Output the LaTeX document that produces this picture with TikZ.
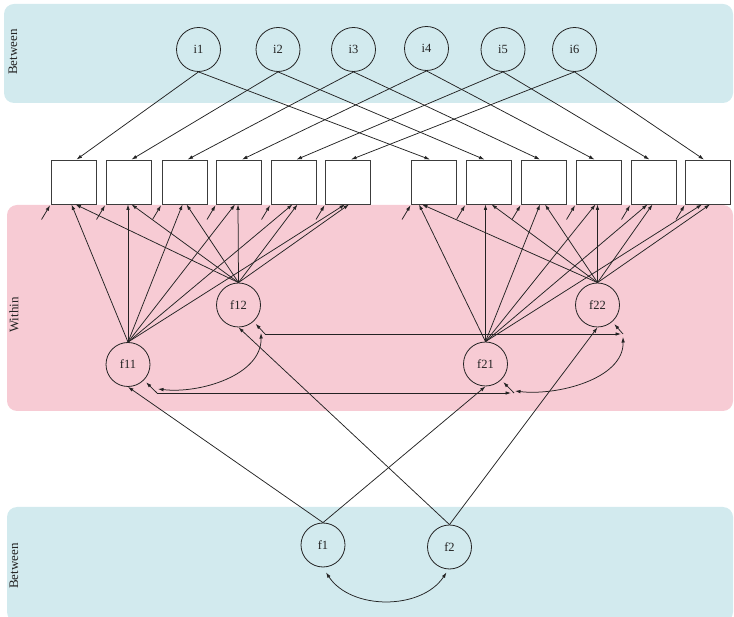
\documentclass[tikz,border=0pt]{standalone}
\usepackage{fontspec}
\setmainfont{Liberation Serif}
\usetikzlibrary{arrows.meta}

\begin{document}
\begin{tikzpicture}[x=1pt,y=-1pt,>={Latex[length=5.5pt,width=3.6pt]},
	latent/.style={circle,draw=darkline,line width=0.8pt,minimum size=44pt,inner sep=0pt,text=darkline,font=\fontsize{12.5}{14}\selectfont},
	observed/.style={rectangle,draw=boxline,line width=0.9pt,minimum width=45pt,minimum height=44pt},
	band/.style={rotate=90,text=darkline,font=\fontsize{13}{15}\selectfont},
	loading/.style={->,draw=darkline,line width=0.75pt}]
	\definecolor{betweenblue}{RGB}{210,234,238}
	\definecolor{withinpink}{RGB}{247,203,212}
	\definecolor{darkline}{RGB}{35,35,35}
	\definecolor{boxline}{RGB}{60,60,60}
	
	\useasboundingbox (0,0) rectangle (734,617);
	\fill[betweenblue,rounded corners=10pt] (4,4) rectangle (733,103);
	\fill[withinpink,rounded corners=10pt] (7,205) rectangle (733,411);
	\fill[betweenblue,rounded corners=10pt] (7,507) rectangle (733,622);
	
	\node[band] (topband) at (13,52) {Between};
	\node[band] (midband) at (14,315) {Within};
	\node[band] (botband) at (14,566) {Between};
	
	\node[latent] (i1) at (198.5,49.5) {i1};
	\node[latent] (i2) at (278,49.5) {i2};
	\node[latent] (i3) at (353.5,49.5) {i3};
	\node[latent] (i4) at (426.5,48.5) {i4};
	\node[latent] (i5) at (503,49.5) {i5};
	\node[latent] (i6) at (574.5,49.5) {i6};
	
	\foreach \x [count=\n] in {73.5,128.5,184.5,239,293.5,348,434,488.5,544,598.5,653.5,708}
		\node[observed] (b\n) at (\x,182) {};
	
	\foreach \n in {1,...,12} {
		\coordinate (e\n) at ([shift={(-9,15)}]b\n.south west);
		\draw[loading,shorten >=1pt] (e\n) -- (b\n.south west);
	}
	
	\foreach \n [evaluate=\n as \m using int(\n+6)] in {1,...,6} {
		\draw[loading] (i\n.south) -- ([xshift=3pt]b\n.north);
		\draw[loading] (i\n.south) -- ([xshift=-4pt]b\m.north);
	}
	
	\node[latent] (f11) at (128,364.5) {f11};
	\node[latent] (f12) at (238.5,305) {f12};
	\node[latent] (f21) at (485.5,364) {f21};
	\node[latent] (f22) at (597.5,305) {f22};
	
	\foreach \n/\s in {1/-2,2/-0.5,3/-2,4/-4,5/-1,6/-3}
		\draw[loading] (f11.north) -- ([xshift=\s pt]b\n.south);
	\foreach \n/\s in {1/2,2/3,3/2,4/-1,5/4,6/1}
		\draw[loading] (f12.north) -- ([xshift=\s pt]b\n.south);
	\foreach \n/\s in {7/-15,8/-3,9/-4,10/-3,11/-6,12/-6}
		\draw[loading] (f21.north) -- ([xshift=\s pt]b\n.south);
	\foreach \n/\s in {7/-12,8/3,9/1,10/-1,11/-1,12/2}
		\draw[loading] (f22.north) -- ([xshift=\s pt]b\n.south);
	
	\coordinate (c11) at (157,393);
	\coordinate (c12) at (265,334);
	\coordinate (c21) at (514,393);
	\coordinate (c22) at (623,334);
	
	\draw[loading,shorten >=3pt] (c11) -- (f11);
	\draw[loading,shorten >=3pt] (c12) -- (f12);
	\draw[loading,shorten >=3pt] (c21) -- (f21);
	\draw[loading,shorten >=3pt] (c22) -- (f22);
	\draw[loading,shorten >=3pt] (c11) -- (c21);
	\draw[loading,shorten >=2pt] (c12) -- (c22);
	\draw[loading,<->] ([shift={(1,-4)}]c11) .. controls +(42,5) and +(1,42) .. ([shift={(-4,-1)}]c12);
	\draw[loading,<->] ([shift={(1,-2)}]c21) .. controls +(42,5) and +(1,42) .. ([shift={(0,3)}]c22);
	
	\node[latent] (f1) at (323,545) {f1};
	\node[latent] (f2) at (449.5,547) {f2};
	
	\draw[loading] (f1.north) -- (f11.south);
	\draw[loading] (f1.north) -- (f21.south);
	\draw[loading] (f2.north) -- (f12.south);
	\draw[loading] (f2.north) -- (f22.south);
	\draw[loading,<->] ([shift={(3,5)}]f1.south) .. controls +(25,38) and +(-25,38) .. ([shift={(-3,3)}]f2.south);
	
\end{tikzpicture}
\end{document}
